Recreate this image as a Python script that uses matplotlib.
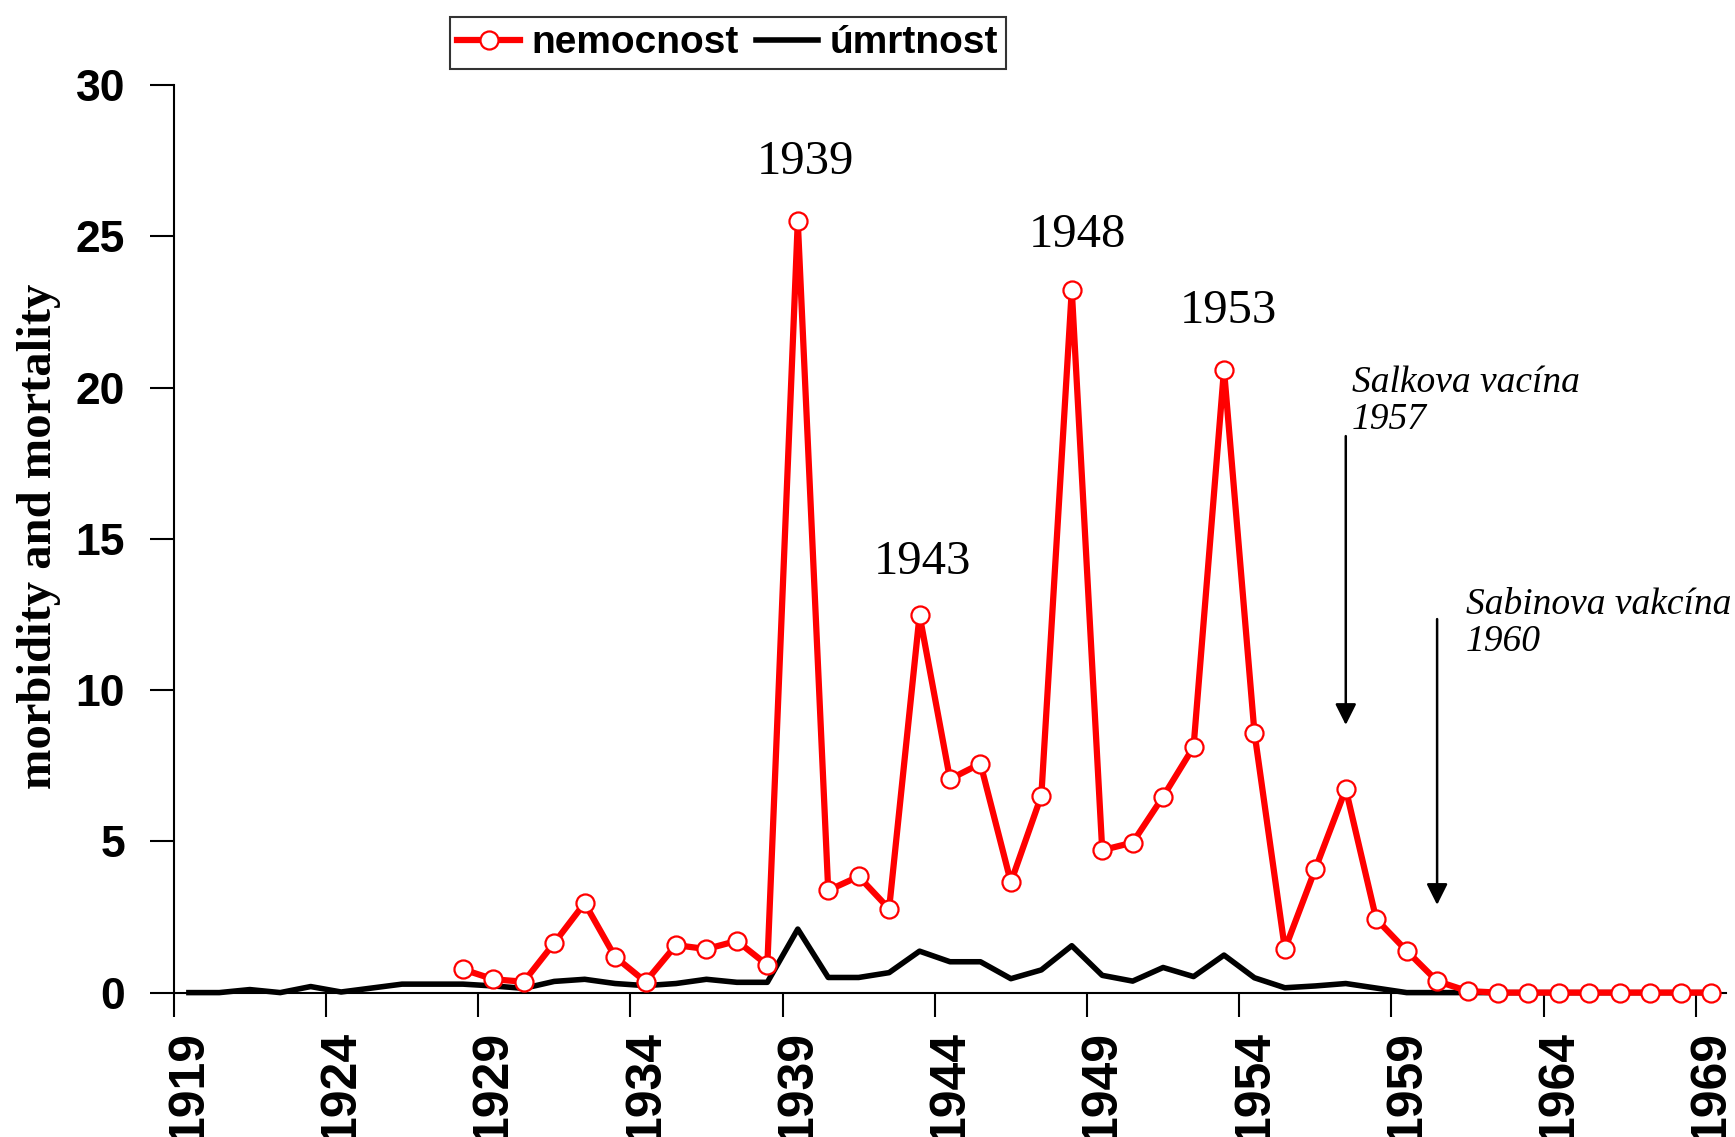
import matplotlib
matplotlib.use("Agg")
import matplotlib.pyplot as plt

# data
roky_nemoc = list(range(1928, 1970))
nemocnost = [0.77, 0.44, 0.36, 1.64, 2.96, 1.18, 0.36, 1.57, 1.44, 1.71, 0.91,
             25.5, 3.38, 3.84, 2.77, 12.48, 7.06, 7.57, 3.65, 6.51, 23.23,
             4.71, 4.96, 6.48, 8.12, 20.6, 8.6, 1.44, 4.09, 6.73, 2.43,
             1.38, 0.38, 0.05, 0, 0, 0, 0, 0, 0, 0, 0]

roky_umrt = list(range(1919, 1970))
umrtnost = [0, 0, 0.1, 0, 0.2, 0.02, 0.15, 0.28, 0.28, 0.28, 0.22, 0.14, 0.37,
            0.44, 0.3, 0.23, 0.3, 0.44, 0.34, 0.34, 2.1, 0.5, 0.5, 0.66, 1.37,
            1.02, 1.02, 0.46, 0.75, 1.55, 0.57, 0.38, 0.83, 0.53, 1.24, 0.49,
            0.16, 0.22, 0.3, 0.15, 0, 0, 0, 0, 0, 0, 0, 0, 0, 0, 0]

popisky_x = [str(r) for r in range(1919, 1970, 5)]

vrcholy = ["1939", "1943", "1948", "1953"]
vrcholy_pos = [(1939.25, 27.45), (1943.08, 14.23), (1948.17, 25.06), (1953.16, 22.54)]

SANS = "Liberation Sans"
SERIF = "Liberation Serif"

fig = plt.figure(figsize=(17.35, 11.37), dpi=100, facecolor='w')
ax = fig.add_axes([0.1001, 0.127, 0.8949, 0.798])

ax.plot(roky_umrt, umrtnost, color='black', lw=4.0, label='úmrtnost',
        clip_on=False, zorder=2)
ax.plot(roky_nemoc, nemocnost, color='#ff0000', lw=4.5, marker='o',
        markersize=13, markerfacecolor='white', markeredgecolor='#ff0000',
        markeredgewidth=1.6, label='nemocnost', clip_on=False, zorder=3)

ax.set_xlim(1918.5, 1969.5)
ax.set_ylim(0, 30)

for s in ['top', 'right']:
    ax.spines[s].set_visible(False)
for s in ['left', 'bottom']:
    ax.spines[s].set_linewidth(1.5)

# ticks between categories, labels at category centers
ax.set_xticks([1918.5 + 5 * k for k in range(11)])
ax.set_xticklabels([])
ax.set_xticks(list(range(1919, 1970, 5)), minor=True)
ax.set_xticklabels(popisky_x, minor=True, rotation=90, fontsize=36,
                   fontweight='bold', family=SANS)
ax.tick_params(axis='x', which='major', length=17, width=1.5, direction='out')
ax.tick_params(axis='x', which='minor', length=0, pad=27)

ax.set_yticks(range(0, 31, 5))
ax.set_yticklabels([str(v) for v in range(0, 31, 5)], fontsize=32,
                   fontweight='bold', family=SANS)
ax.tick_params(axis='y', length=17, width=1.5, direction='out', pad=18)

fig.text(0.0225, 0.528, 'morbidity and mortality', rotation=90,
         ha='center', va='center', fontsize=35, fontweight='bold',
         family=SERIF)

for txt, (x, y) in zip(vrcholy, vrcholy_pos):
    ax.text(x, y, txt, ha='center', va='center', fontsize=35, family=SERIF)

ax.text(1957.2, 20.75, 'Salkova vacína\n1957', ha='left', va='top',
        fontsize=27, style='italic', family=SERIF, linespacing=1.1)
ax.text(1960.95, 13.4, 'Sabinova vakcína\n1960', ha='left', va='top',
        fontsize=27, style='italic', family=SERIF, linespacing=1.1)

sipka = dict(arrowstyle='-|>', color='black', lw=1.8, mutation_scale=32,
             shrinkA=0, shrinkB=0)
ax.annotate('', xy=(1957, 8.85), xytext=(1957, 18.4), arrowprops=sipka)
ax.annotate('', xy=(1960, 2.9), xytext=(1960, 12.35), arrowprops=sipka)

h, l = ax.get_legend_handles_labels()
leg = fig.legend(h[::-1], l[::-1], loc='center', ncol=2,
                 bbox_to_anchor=(0.4196, 0.962), frameon=True, fancybox=False,
                 prop={'family': SANS, 'weight': 'bold', 'size': 28},
                 handlelength=1.6, handletextpad=0.3, columnspacing=0.45,
                 borderpad=0.2, borderaxespad=0)
leg.get_frame().set_edgecolor('black')
leg.get_frame().set_linewidth(1.5)

plt.savefig('out.png', dpi=100, facecolor='w')
